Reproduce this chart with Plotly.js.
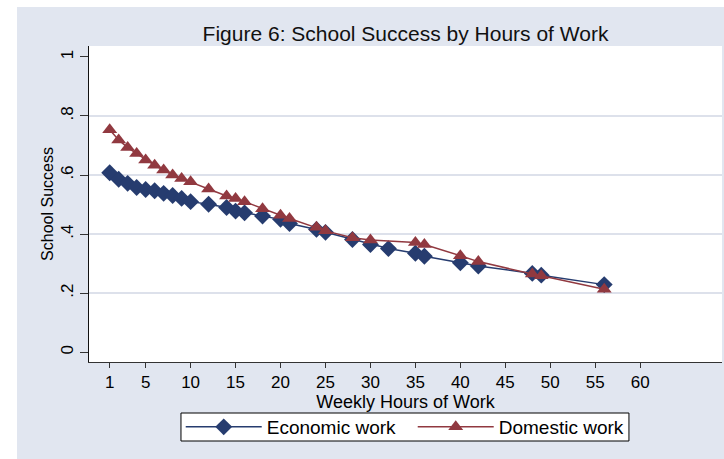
<!DOCTYPE html>
<html>
<head>
<meta charset="utf-8">
<script src="https://cdn.plot.ly/plotly-3.0.1.min.js"></script>
<style>
  html, body { margin: 0; padding: 0; background: #ffffff; width: 724px; height: 459px; overflow: hidden; }
  #chart { position: absolute; left: 17px; top: 7px; width: 707px; height: 452px; }
</style>
</head>
<body>
<div id="chart"></div>
<script>
// Data
const economicHours = [1,2,3,4,5,6,7,8,9,10,12,14,15,16,18,20,21,24,25,28,30,32,35,36,40,42,48,49,56];
const economicSuccess = [0.608,0.586,0.572,0.558,0.551,0.547,0.538,0.531,0.521,0.510,0.501,0.490,0.478,0.472,0.461,0.450,0.436,0.416,0.406,0.382,0.365,0.351,0.335,0.325,0.303,0.292,0.267,0.261,0.229];
const domesticHours = [1,2,3,4,5,6,7,8,9,10,12,14,15,16,18,20,21,24,25,28,30,35,36,40,42,48,49,56];
const domesticSuccess = [0.753,0.719,0.693,0.673,0.651,0.633,0.617,0.600,0.588,0.577,0.553,0.529,0.521,0.510,0.486,0.464,0.453,0.423,0.411,0.388,0.380,0.372,0.365,0.327,0.307,0.265,0.259,0.213];
const xTickVals = [1,5,10,15,20,25,30,35,40,45,50,55,60];
const yTickVals = [0,0.2,0.4,0.6,0.8,1];
const yTickText = ["0",".2",".4",".6",".8","1"];
const gridVals = [0.2,0.4,0.6,0.8];

const blue = "#263c6f";
const red = "#913940";
const font = "Liberation Sans, Arial, sans-serif";

const traces = [
  {
    x: economicHours, y: economicSuccess, name: "Economic work",
    type: "scatter", mode: "lines+markers",
    line: {color: blue, width: 1.5},
    marker: {symbol: "diamond", size: 13, color: blue}
  },
  {
    x: domesticHours, y: domesticSuccess, name: "Domestic work",
    type: "scatter", mode: "lines+markers",
    line: {color: red, width: 1.5},
    marker: {symbol: "triangle-up", size: 13, color: red}
  },
  // invisible helper trace so the grid-only overlay axis is drawn
  {x: [0], y: [0], yaxis: "y2", showlegend: false, hoverinfo: "skip",
   mode: "markers", marker: {opacity: 0}, type: "scatter"}
];

const layout = {
  width: 707, height: 452,
  paper_bgcolor: "#e1e6f0",
  plot_bgcolor: "#ffffff",
  margin: {l: 72, r: 2, t: 39, b: 97},
  font: {family: font, color: "#000000", size: 17},
  title: {
    text: "Figure 6: School Success by Hours of Work",
    font: {family: font, size: 21, color: "#111111"},
    x: 0.5, xref: "paper", xanchor: "center",
    y: 0.942, yref: "container", yanchor: "middle"
  },
  xaxis: {
    range: [-1.3, 69.1],
    tickmode: "array", tickvals: xTickVals,
    ticks: "outside", ticklen: 5, tickcolor: "#333333", tickwidth: 1,
    showgrid: false, zeroline: false,
    showline: true, linecolor: "#333333", linewidth: 1,
    tickfont: {size: 17},
    title: {text: "Weekly Hours of Work", font: {size: 18}, standoff: 0}
  },
  yaxis: {
    range: [-0.033, 1.037],
    tickmode: "array", tickvals: yTickVals, ticktext: yTickText,
    tickangle: -90,
    ticks: "outside", ticklen: 8, tickcolor: "#333333", tickwidth: 1,
    showgrid: false, zeroline: false,
    showline: true, linecolor: "#111111", linewidth: 1,
    tickfont: {size: 17},
    title: {text: "School Success", font: {size: 16}, standoff: 0}
  },
  yaxis2: {
    overlaying: "y", matches: "y", range: [-0.033, 1.037],
    tickmode: "array", tickvals: gridVals,
    showticklabels: false, ticks: "",
    showgrid: true, gridcolor: "#dde1eb", gridwidth: 1.5,
    zeroline: false, showline: false
  },
  shapes: [
    {type: "rect", xref: "paper", yref: "paper",
     x0: 0.1453, x1: 0.853, y0: -0.25, y1: -0.1614,
     fillcolor: "#ffffff", line: {color: "#000000", width: 1}, layer: "below"}
  ],
  showlegend: true,
  legend: {
    orientation: "h",
    x: 0.1449, xanchor: "left",
    y: -0.2057, yanchor: "middle",
    bgcolor: "rgba(0,0,0,0)", borderwidth: 0,
    font: {size: 19},
    itemwidth: 76,
    entrywidth: 141,
    traceorder: "normal"
  }
};

Plotly.newPlot("chart", traces, layout, {staticPlot: true, displayModeBar: false});
</script>
</body>
</html>
